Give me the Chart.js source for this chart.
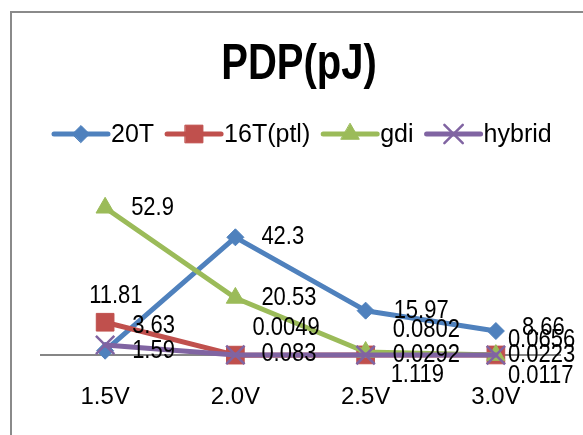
<!DOCTYPE html>
<html>
<head>
<meta charset="utf-8">
<script src="https://cdn.jsdelivr.net/npm/chart.js@4.4.1/dist/chart.umd.min.js"></script>
<style>
  html, body { margin: 0; padding: 0; background: #ffffff; overflow: hidden; }
  canvas { display: block; }
</style>
</head>
<body>
<canvas id="pdp" width="583" height="435"></canvas>
<script>
// Supply voltages on the category axis
const voltages = ['1.5V', '2.0V', '2.5V', '3.0V'];

// Power-delay product (pJ) per design
const pdp20T    = [1.59, 42.3, 15.97, 8.66];
const pdp16Tptl = [11.81, 0.0049, 0.0802, 0.0656];
const pdpGdi    = [52.9, 20.53, 1.119, 0.0117];
const pdpHybrid = [3.63, 0.083, 0.0292, 0.0223];

const seriesNames = ['20T', '16T(ptl)', 'gdi', 'hybrid'];

const SANS = '"Liberation Sans", Arial, sans-serif';
const LABEL_FONT = '25px ' + SANS;
const LEGEND_FONT = '25px ' + SANS;
const TITLE_FONT = 'bold 50px ' + SANS;

// Offsets of each value label from its point (dx, dy in px)
const labelOffsets = [
  [[27, 0], [26, 0], [28, 0], [26, -3]],
  [[-16, -26], [17, -27], [27, -25], [12, -15]],
  [[26, 0], [26, 0], [25, 23], [12, 21]],
  [[27, -19], [26, -1], [27, 0], [12, 0]]
];

// draw text squeezed horizontally by factor sx
function narrowText(ctx, text, x, y, sx) {
  ctx.save();
  ctx.translate(x, y);
  ctx.scale(sx, 1);
  ctx.fillText(text, 0, 0);
  ctx.restore();
}

const frameAndText = {
  id: 'frameAndText',
  beforeDraw(chart) {
    const ctx = chart.ctx;
    ctx.save();
    ctx.fillStyle = '#ffffff';
    ctx.fillRect(0, 0, chart.width, chart.height);
    // chart border (continues past the right and bottom edges)
    ctx.strokeStyle = '#8a8a8a';
    ctx.lineWidth = 2;
    ctx.beginPath();
    ctx.moveTo(11, chart.height + 5);
    ctx.lineTo(11, 12);
    ctx.lineTo(chart.width + 5, 12);
    ctx.stroke();
    ctx.restore();
  },
  afterDraw(chart) {
    const ctx = chart.ctx;
    ctx.save();
    // title
    ctx.fillStyle = '#000000';
    ctx.font = TITLE_FONT;
    ctx.textAlign = 'center';
    ctx.textBaseline = 'alphabetic';
    narrowText(ctx, 'PDP(pJ)', 299, 79, 0.8);

    // legend: line + marker + name
    ctx.font = LEGEND_FONT;
    ctx.textAlign = 'left';
    ctx.textBaseline = 'middle';
    let x = 54;
    const y = 134;
    chart.data.datasets.forEach((ds) => {
      const lineLen = 54;
      ctx.strokeStyle = ds.borderColor;
      ctx.lineWidth = ds.borderWidth;
      ctx.lineCap = 'round';
      ctx.beginPath();
      ctx.moveTo(x, y);
      ctx.lineTo(x + lineLen, y);
      ctx.stroke();
      ctx.fillStyle = ds.pointBackgroundColor;
      ctx.strokeStyle = ds.pointBorderColor;
      ctx.lineWidth = ds.pointBorderWidth;
      Chart.helpers.drawPoint(ctx, {
        pointStyle: ds.pointStyle,
        radius: ds.pointRadius,
        borderWidth: ds.pointBorderWidth,
        rotation: 0
      }, x + lineLen / 2, y);
      ctx.fillStyle = '#000000';
      const tx = x + lineLen + 3;
      ctx.fillText(ds.label, tx, y + 1);
      x = tx + ctx.measureText(ds.label).width + 13;
    });

    // value labels next to each point
    ctx.font = LABEL_FONT;
    ctx.fillStyle = '#000000';
    ctx.textAlign = 'left';
    ctx.textBaseline = 'middle';
    chart.data.datasets.forEach((ds, di) => {
      const meta = chart.getDatasetMeta(di);
      meta.data.forEach((pt, i) => {
        const [dx, dy] = labelOffsets[di][i];
        narrowText(ctx, String(ds.data[i]), pt.x + dx, pt.y + dy, 0.88);
      });
    });
    ctx.restore();
  }
};

function series(label, data, color, style, radius, order) {
  return {
    label, data, order,
    borderColor: color,
    backgroundColor: color,
    borderWidth: 5,
    borderJoinStyle: 'round',
    borderCapStyle: 'round',
    pointStyle: style,
    pointRadius: radius,
    pointHoverRadius: radius,
    pointBackgroundColor: color,
    pointBorderColor: color,
    pointBorderWidth: style === 'crossRot' ? 2.5 : 1,
    tension: 0,
    fill: false
  };
}

new Chart(document.getElementById('pdp'), {
  type: 'line',
  data: {
    labels: voltages,
    datasets: [
      series(seriesNames[0], pdp20T, '#4F81BD', 'rectRot', 8.5, 3),
      series(seriesNames[1], pdp16Tptl, '#C0504D', 'rect', 12.5, 2),
      series(seriesNames[2], pdpGdi, '#9BBB59', 'triangle', 10.5, 1),
      series(seriesNames[3], pdpHybrid, '#8064A2', 'crossRot', 13, 0)
    ]
  },
  options: {
    responsive: false,
    animation: false,
    events: [],
    layout: { padding: { left: 40, right: 22, top: 188, bottom: 0 } },
    plugins: {
      legend: { display: false },
      title: { display: false },
      tooltip: { enabled: false }
    },
    scales: {
      x: {
        type: 'category',
        offset: true,
        grid: { display: false },
        border: { display: false },
        ticks: {
          color: '#000000',
          font: { family: SANS, size: 24 },
          padding: -8,
          maxRotation: 0
        },
        afterFit(scale) { scale.height = 52; }
      },
      y: {
        min: -10,
        max: 60,
        ticks: { display: false, stepSize: 10 },
        border: { display: false },
        grid: {
          drawTicks: false,
          lineWidth: 2,
          color: (c) => (c.tick && c.tick.value === 0 ? '#868686' : 'rgba(0,0,0,0)')
        },
        afterFit(scale) { scale.width = 0; }
      }
    }
  },
  plugins: [frameAndText]
});
</script>
</body>
</html>
